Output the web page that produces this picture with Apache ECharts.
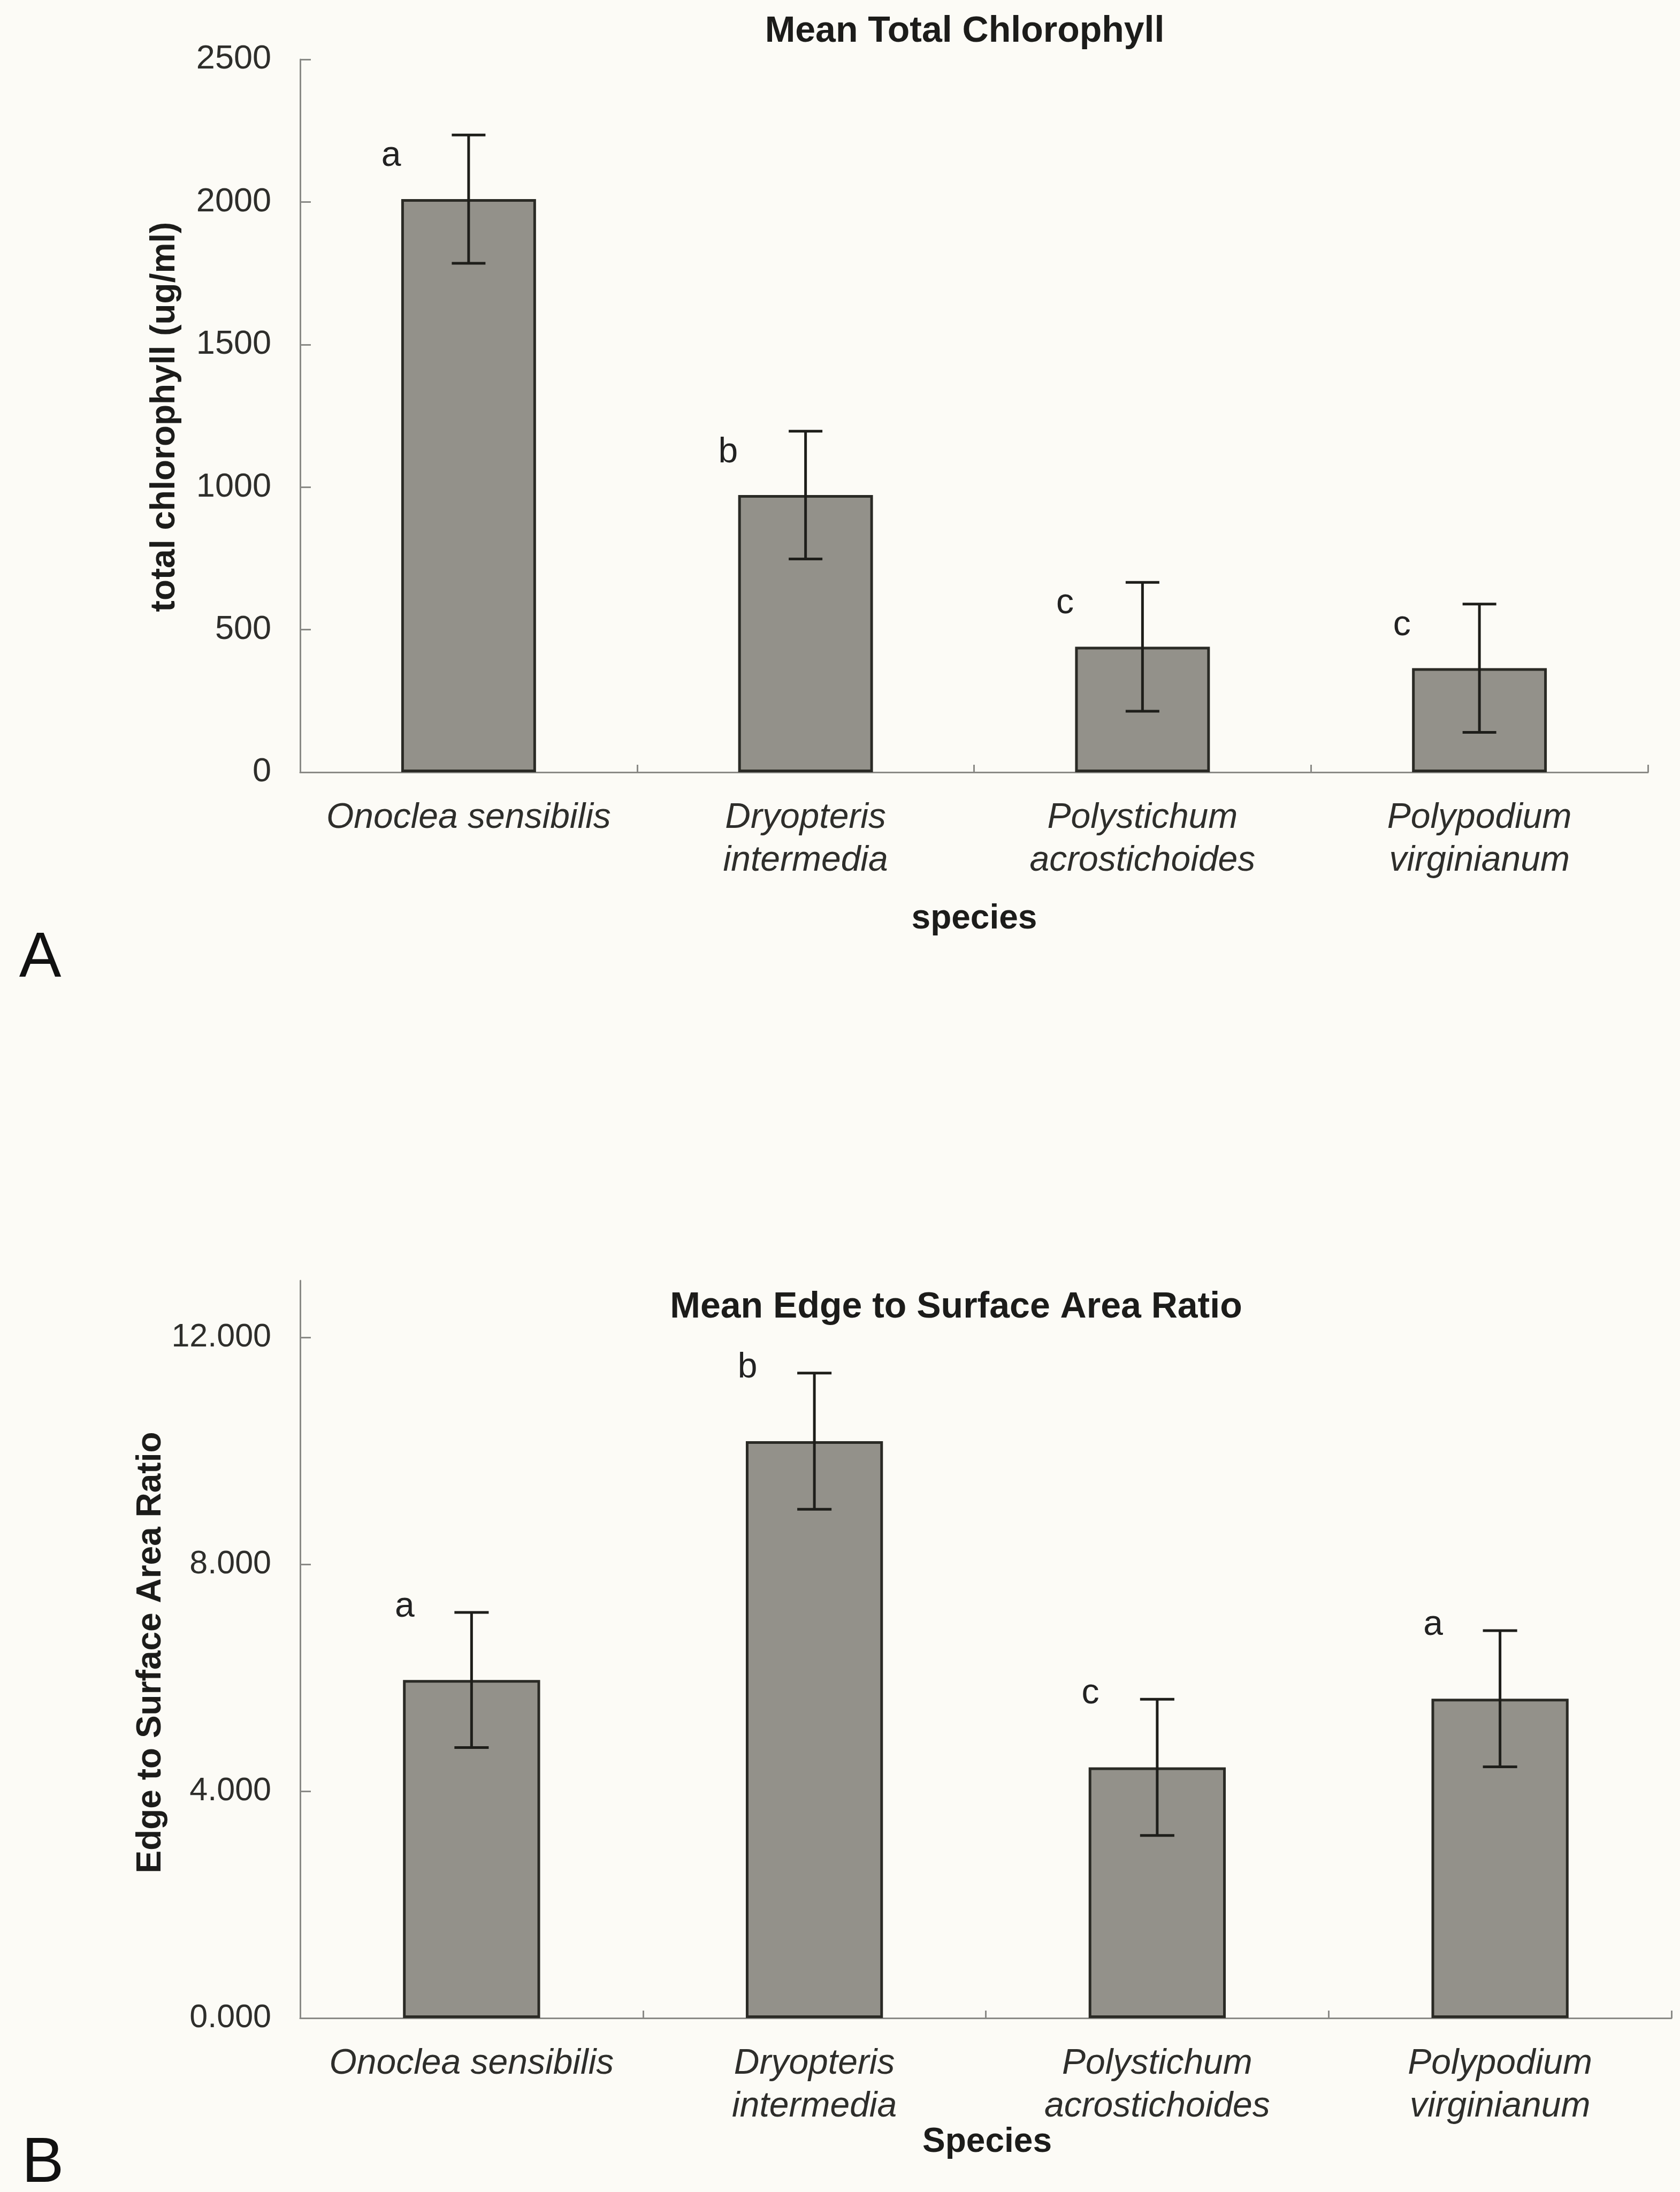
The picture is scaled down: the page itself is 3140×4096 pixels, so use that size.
<!DOCTYPE html>
<html>
<head>
<meta charset="utf-8">
<script src="https://cdn.jsdelivr.net/npm/echarts@6/dist/echarts.min.js"></script>
<style>
  html, body { margin: 0; padding: 0; background: #fcfbf6; }
  #main { width: 3140px; height: 4096px; }
</style>
</head>
<body>
<div id="main"></div>
<script>
// ---- data ----
const categories = ['Onoclea sensibilis', 'Dryopteris\nintermedia', 'Polystichum\nacrostichoides', 'Polypodium\nvirginianum'];

const chlMean = [2010, 972, 440, 365];
const chlErr = [225, 224, 226, 225];
const chlLetters = ['a', 'b', 'c', 'c'];
const chlTicks = [0, 500, 1000, 1500, 2000, 2500];

const ratioMean = [5.96, 10.17, 4.42, 5.63];
const ratioErr = [1.19, 1.20, 1.20, 1.20];
const ratioLetters = ['a', 'b', 'c', 'a'];
const ratioTicks = [0, 4, 8, 12];

// ---- styling ----
const FONT = '"Liberation Sans", Arial, Helvetica, sans-serif';
const AXIS_COLOR = '#8a8a86';
const TEXT_COLOR = '#2e2e2b';
const BAR_FILL = '#93918a';
const BAR_EDGE = '#2a2a25';

function errorSeries(gridIdx, mean, err, letters, letterDx, letterDy) {
  return {
    type: 'custom',
    xAxisIndex: gridIdx,
    yAxisIndex: gridIdx,
    silent: true,
    z: 5,
    data: mean.map((m, i) => [i, m, err[i]]),
    encode: { x: 0, y: 1 },
    renderItem: function (params, api) {
      const i = api.value(0), m = api.value(1), e = api.value(2);
      const top = api.coord([i, m + e]);
      const bot = api.coord([i, m - e]);
      const band = api.size([1, 0])[0];
      const cap = band * 0.05;
      const ls = { stroke: '#1e1e1a', lineWidth: 5 };
      return {
        type: 'group',
        children: [
          { type: 'line', shape: { x1: top[0], y1: top[1], x2: bot[0], y2: bot[1] }, style: ls },
          { type: 'line', shape: { x1: top[0] - cap, y1: top[1], x2: top[0] + cap, y2: top[1] }, style: ls },
          { type: 'line', shape: { x1: bot[0] - cap, y1: bot[1], x2: bot[0] + cap, y2: bot[1] }, style: ls },
          { type: 'text', style: {
              text: letters[params.dataIndex],
              x: top[0] + band * letterDx, y: top[1] + letterDy,
              fontFamily: FONT, fontSize: 66, fill: '#222',
              align: 'center', verticalAlign: 'middle' } }
        ]
      };
    }
  };
}

function xAxisCfg(gridIdx) {
  return {
    gridIndex: gridIdx,
    type: 'category',
    data: categories,
    axisLine: { lineStyle: { color: AXIS_COLOR, width: 3 } },
    axisTick: { show: true, inside: true, length: 14, lineStyle: { color: AXIS_COLOR, width: 3 } },
    axisLabel: { interval: 0, fontFamily: FONT, fontStyle: 'italic', fontSize: 66,
                 lineHeight: 80, color: TEXT_COLOR, margin: 46 },
    splitLine: { show: false }
  };
}

const chart = echarts.init(document.getElementById('main'), null, { renderer: 'canvas' });

const option = {
  backgroundColor: '#fcfbf6',
  animation: false,
  grid: [
    { left: 561, top: 111, width: 2519, height: 1332 },
    { left: 561, top: 2393, width: 2563, height: 1378 }
  ],
  xAxis: [xAxisCfg(0), xAxisCfg(1)],
  yAxis: [
    {
      gridIndex: 0, type: 'value', min: chlTicks[0], max: chlTicks[chlTicks.length - 1], interval: 500,
      axisLine: { show: true, lineStyle: { color: AXIS_COLOR, width: 3 } },
      axisTick: { show: true, inside: true, length: 20, lineStyle: { color: AXIS_COLOR, width: 3 } },
      splitLine: { show: false },
      axisLabel: { fontFamily: FONT, fontSize: 63, color: TEXT_COLOR, margin: 54,
                   customValues: chlTicks, formatter: v => String(v) }
    },
    {
      gridIndex: 1, type: 'value', min: 0, max: 13, interval: 4,
      axisLine: { show: true, lineStyle: { color: AXIS_COLOR, width: 3 } },
      axisTick: { show: true, inside: true, length: 20, customValues: ratioTicks,
                  lineStyle: { color: AXIS_COLOR, width: 3 } },
      splitLine: { show: false },
      axisLabel: { fontFamily: FONT, fontSize: 61, color: TEXT_COLOR, margin: 54,
                   customValues: ratioTicks, formatter: v => Number(v).toFixed(3) }
    }
  ],
  series: [
    { type: 'bar', xAxisIndex: 0, yAxisIndex: 0, data: chlMean, barWidth: '40%', silent: true,
      itemStyle: { color: BAR_FILL, borderColor: BAR_EDGE, borderWidth: 5 } },
    errorSeries(0, chlMean, chlErr, chlLetters, -0.23, 40),
    { type: 'bar', xAxisIndex: 1, yAxisIndex: 1, data: ratioMean, barWidth: '40%', silent: true,
      itemStyle: { color: BAR_FILL, borderColor: BAR_EDGE, borderWidth: 5 } },
    errorSeries(1, ratioMean, ratioErr, ratioLetters, -0.195, -10)
  ],
  graphic: [
    { type: 'text', x: 1803, y: 59, style: { text: 'Mean Total Chlorophyll', fontFamily: FONT, fontWeight: 'bold',
      fontSize: 68, fill: '#1c1c1a', align: 'center', verticalAlign: 'middle' } },
    { type: 'text', x: 308, y: 779, rotation: Math.PI / 2, style: { text: 'total chlorophyll (ug/ml)', fontFamily: FONT,
      fontWeight: 'bold', fontSize: 64, fill: '#1c1c1a', align: 'center', verticalAlign: 'middle' } },
    { type: 'text', x: 1821, y: 1717, style: { text: 'species', fontFamily: FONT, fontWeight: 'bold',
      fontSize: 64, fill: '#1c1c1a', align: 'center', verticalAlign: 'middle' } },
    { type: 'text', x: 75, y: 1792, style: { text: 'A', fontFamily: FONT, fontSize: 118, fill: '#111',
      align: 'center', verticalAlign: 'middle' } },

    { type: 'text', x: 1787, y: 2443, style: { text: 'Mean Edge to Surface Area Ratio', fontFamily: FONT, fontWeight: 'bold',
      fontSize: 68, fill: '#1c1c1a', align: 'center', verticalAlign: 'middle' } },
    { type: 'text', x: 282, y: 3088, rotation: Math.PI / 2, style: { text: 'Edge to Surface Area Ratio', fontFamily: FONT,
      fontWeight: 'bold', fontSize: 64, fill: '#1c1c1a', align: 'center', verticalAlign: 'middle' } },
    { type: 'text', x: 1845, y: 4003, style: { text: 'Species', fontFamily: FONT, fontWeight: 'bold',
      fontSize: 64, fill: '#1c1c1a', align: 'center', verticalAlign: 'middle' } },
    { type: 'text', x: 80, y: 4044, style: { text: 'B', fontFamily: FONT, fontSize: 118, fill: '#111',
      align: 'center', verticalAlign: 'middle' } }
  ]
};

chart.setOption(option);
</script>
</body>
</html>
